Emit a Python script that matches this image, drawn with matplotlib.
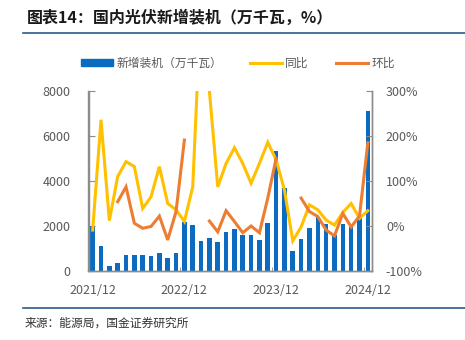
import numpy as np
import matplotlib.pyplot as plt
from matplotlib.lines import Line2D
from matplotlib.patches import Patch

plt.rcParams['font.family'] = ['Noto Sans CJK SC', 'DejaVu Sans']

# 2021/12 .. 2024/12, Jan-Feb reported together
months = ['2021/12', '2022/02', '2022/03', '2022/04', '2022/05', '2022/06', '2022/07', '2022/08',
          '2022/09', '2022/10', '2022/11', '2022/12', '2023/02', '2023/03', '2023/04', '2023/05',
          '2023/06', '2023/07', '2023/08', '2023/09', '2023/10', '2023/11', '2023/12', '2024/02',
          '2024/03', '2024/04', '2024/05', '2024/06', '2024/07', '2024/08', '2024/09', '2024/10',
          '2024/11', '2024/12']
new_install = [2000, 1090, 230, 370, 690, 720, 690, 680, 810, 580, 780, 2160, 2040, 1335, 1465, 1300,
               1720, 1880, 1610, 1585, 1365, 2145, 5330, 3670, 905, 1437, 1920, 2380, 2090, 1580,
               2090, 1950, 2400, 7110]
yoy = [-9, 236, 12, 110, 143, 132, 39, 65, 132, 50, 36, 10, 87, 500, 300, 87,
       139, 174, 139, 95, 139, 186, 147, 80, -33, -2, 47, 36, 13, 2,
       30, 50, 17, 34]
mom = [np.nan, np.nan, np.nan, 54, 87, 6, -5, -1, 22, -31, 32, 191, np.nan, np.nan, 11, -13,
       34, 10, -15, 0, -15, 62, 150, np.nan, np.nan, 62, 32, 21, -9, -22,
       28, -2, 22, 185]
tick_idx = [0, 11, 22, 33]

blue = '#0A6BC1'
yellow = '#FFC000'
orange = '#ED7D31'
gray = '#8C8C8C'
txt = '#595959'
rule = '#2B5C8A'

fig = plt.figure(figsize=(4.65, 3.4), dpi=100)
ax = fig.add_axes([88.5 / 465, 1 - 271 / 340, (372 - 88.5) / 465, 180 / 340])
ax2 = ax.twinx()

x = np.arange(len(months))
ax.bar(x, new_install, width=0.55, color=blue, zorder=2)
ax.set_xlim(-0.5, len(months) - 0.5)
ax.set_ylim(0, 8000)
ax.set_yticks([0, 2000, 4000, 6000, 8000])
ax.set_xticks(tick_idx)
ax.set_xticklabels([months[i] for i in tick_idx])
ax.set_xticks([10.5, 21.5, 32.5], minor=True)
ax.tick_params(axis='x', which='major', length=0, pad=9, labelsize=9, labelcolor=txt)
ax.tick_params(axis='x', which='minor', length=3, direction='in', color=gray)
ax.tick_params(axis='y', length=4, direction='in', color=gray, pad=13, labelsize=9, labelcolor=txt)

ax2.plot(x, np.array(yoy) / 100, color=yellow, lw=2.2, zorder=3, solid_joinstyle='miter')
ax2.plot(x, np.array(mom) / 100, color=orange, lw=2.2, zorder=4, solid_joinstyle='miter')
ax2.set_ylim(-1, 3)
ax2.set_yticks([-1, 0, 1, 2, 3])
ax2.set_yticklabels(['-100%', '0%', '100%', '200%', '300%'])
ax2.tick_params(axis='y', length=4, direction='in', color=gray, pad=10, labelsize=9, labelcolor=txt)

for a in (ax, ax2):
    a.spines['top'].set_visible(False)
    for s in ('left', 'right', 'bottom'):
        a.spines[s].set_color(gray)
        a.spines[s].set_linewidth(1)

handles = [Patch(color=blue), Line2D([], [], color=yellow, lw=2.2), Line2D([], [], color=orange, lw=2.2)]
fig.legend(handles, ['新增装机（万千瓦）', '同比', '环比'], loc='center', bbox_to_anchor=(0.512, 1 - 63 / 340),
           ncol=3, frameon=False, fontsize=8.5, handlelength=2.7, handleheight=0.6, handletextpad=0.3,
           columnspacing=2.3, labelcolor=txt)

fig.text(27 / 465, 1 - 18 / 340, '图表14：国内光伏新增装机（万千瓦，%）', fontsize=11.5, fontweight='bold',
         va='center', ha='left', color='#1a1a1a')
fig.add_artist(Line2D([23 / 465, 1], [1 - 33 / 340] * 2, color=rule, lw=1.2))
fig.add_artist(Line2D([23 / 465, 1], [1 - 308 / 340] * 2, color=rule, lw=1.2))
fig.text(25 / 465, 1 - 323 / 340, '来源：能源局，国金证券研究所', fontsize=8.5, va='center', ha='left',
         color='#333333')

fig.savefig('out.png', dpi=100)
